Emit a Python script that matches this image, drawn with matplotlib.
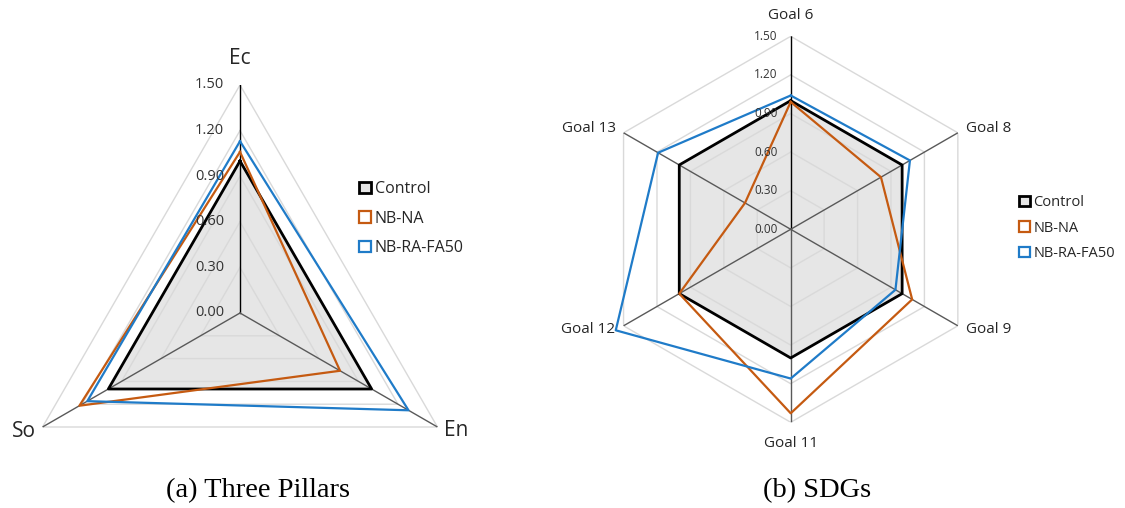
import numpy as np
import matplotlib
matplotlib.use("Agg")
import matplotlib.pyplot as plt
from matplotlib.patches import Patch

# ------------------
# Data
# ------------------
series_names = ["Control", "NB-NA", "NB-RA-FA50"]

pillar_labels = ["Ec", "En", "So"]
pillar_control = [1.00, 1.00, 1.00]
pillar_nbna = [1.06, 0.76, 1.22]
pillar_nbrafa = [1.13, 1.28, 1.16]

sdg_labels = ["Goal 6", "Goal 8", "Goal 9", "Goal 11", "Goal 12", "Goal 13"]
sdg_control = [1.00, 1.00, 1.00, 1.00, 1.00, 1.00]
sdg_nbna = [0.99, 0.81, 1.09, 1.43, 1.00, 0.41]
sdg_nbrafa = [1.04, 1.07, 0.94, 1.16, 1.57, 1.19]

ring_ticks = [0.00, 0.30, 0.60, 0.90, 1.20, 1.50]
ring_labels = ["0.00", "0.30", "0.60", "0.90", "1.20", "1.50"]

# ------------------
# Style
# ------------------
BLACK = "#000000"
ORANGE = "#C55A11"
BLUE = "#1F7BC8"
FILL = "#E6E6E6"
GRID = "#D9D9D9"
SPOKE = "#595959"
FONT = "Open Sans"
SERIF = "Liberation Serif"

W, H = 1125, 508
PX = 72 / 100  # points per pixel
fig = plt.figure(figsize=(W / 100, H / 100), dpi=100)


def radar(center, radius, labels, values, tick_fs, tick_pad, label_fs,
          vpad, hpad):
    cx, cy = center
    ax = fig.add_axes([(cx - radius) / W, (H - cy - radius) / H,
                       2 * radius / W, 2 * radius / H], projection="polar")
    ax.set_theta_zero_location("N")
    ax.set_theta_direction(-1)
    ax.set_ylim(0, 1.5)
    ax.grid(False)
    ax.set_xticks([])
    ax.set_yticks([])
    ax.spines["polar"].set_visible(False)
    ax.patch.set_alpha(0)

    n = len(labels)
    ang = np.arange(n) * 2 * np.pi / n
    closed = np.append(ang, ang[0])

    # polygon rings
    for r in ring_ticks[1:]:
        ax.plot(closed, [r] * (n + 1), color=GRID, lw=1.0, zorder=2)
    # spokes
    for i, a in enumerate(ang):
        ax.plot([a, a], [0, 1.5], color=BLACK if i == 0 else SPOKE,
                lw=1.0, zorder=3)

    ctrl, nbna, nbra = values
    ax.fill(closed, np.append(ctrl, ctrl[0]), color=FILL, zorder=1, lw=0)
    for vals, col, lw in [(ctrl, BLACK, 2.0), (nbna, ORANGE, 1.6),
                          (nbra, BLUE, 1.6)]:
        ax.plot(closed, np.append(vals, vals[0]), color=col, lw=lw,
                zorder=5, clip_on=False)

    for r, t in zip(ring_ticks, ring_labels):
        ax.annotate(t, (0, r), xytext=(-tick_pad * PX, 0),
                    textcoords="offset points", ha="right", va="center",
                    fontsize=tick_fs, family=FONT, color="#333333", zorder=6)

    # category labels: above/below on the vertical axis, beside elsewhere
    for a, lab in zip(ang, labels):
        s, c = np.sin(a), np.cos(a)
        if abs(s) < 0.1:
            off, ha = (0, np.sign(c) * vpad * PX), "center"
        else:
            off = (np.sign(s) * hpad * PX, c * 8 * PX)
            ha = "left" if s > 0 else "right"
        ax.annotate(lab, (a, 1.5), xytext=off, textcoords="offset points",
                    ha=ha, va="center", fontsize=label_fs, family=FONT,
                    color="#262626", annotation_clip=False)
    return ax


radar((240, 313), 228, pillar_labels,
      (pillar_control, pillar_nbna, pillar_nbrafa), 10.5, 16, 15, 27, 7)
radar((790.7, 229.3), 193, sdg_labels,
      (sdg_control, sdg_nbna, sdg_nbrafa), 8.5, 13, 11, 21, 8)


def legend(x, y, fs, spacing):
    handles = [Patch(facecolor=FILL, edgecolor=BLACK, lw=2.0),
               Patch(facecolor="white", edgecolor=ORANGE, lw=1.6),
               Patch(facecolor="white", edgecolor=BLUE, lw=1.6)]
    leg = fig.legend(handles, series_names, loc="upper left",
                     bbox_to_anchor=(x / W, 1 - y / H), frameon=False,
                     handlelength=0.75, handleheight=0.75, handletextpad=0.25,
                     labelspacing=spacing, borderpad=0, borderaxespad=0,
                     prop={"family": FONT, "size": fs})
    for t in leg.get_texts():
        t.set_color("#262626")


legend(359, 181, 11.5, 0.85)
legend(1019, 195, 10.5, 0.72)

fig.text(258 / W, 1 - 491 / H, "(a) Three Pillars", ha="center",
         va="center", fontsize=20.5, family=SERIF)
fig.text(817 / W, 1 - 491 / H, "(b) SDGs", ha="center", va="center",
         fontsize=20.5, family=SERIF)

fig.savefig("out.png", dpi=100)
